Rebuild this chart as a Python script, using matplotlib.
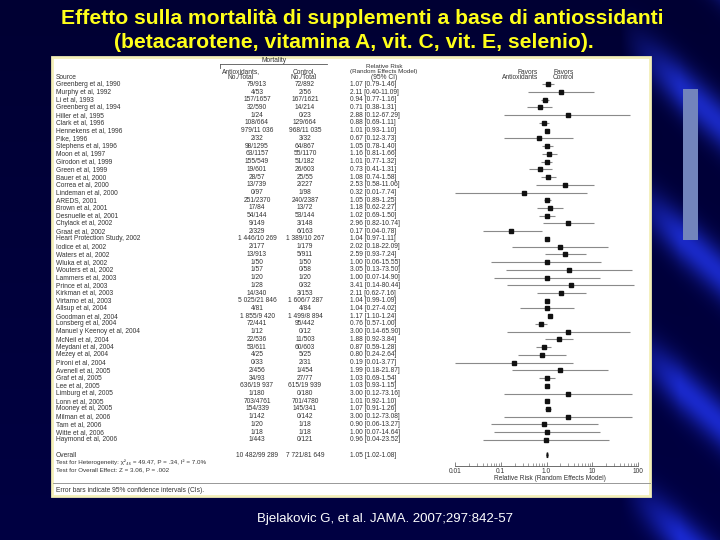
import numpy as np
import matplotlib
matplotlib.use("Agg")
import matplotlib.pyplot as plt
from matplotlib.patches import Rectangle
from matplotlib.ticker import LogLocator, FixedLocator, FixedFormatter, NullFormatter

# ---- data ----
studies = [
    "Greenberg et al, 1990", "Murphy et al, 1992", "Li et al, 1993", "Greenberg et al, 1994",
    "Hiller et al, 1995", "Clark et al, 1996", "Hennekens et al, 1996", "Pike, 1996",
    "Stephens et al, 1996", "Moon et al, 1997", "Girodon et al, 1999", "Green et al, 1999",
    "Bauer et al, 2000", "Correa et al, 2000", "Lindeman et al, 2000", "AREDS, 2001",
    "Brown et al, 2001", "Desnuelle et al, 2001", "Chylack et al, 2002", "Graat et al, 2002",
    "Heart Protection Study, 2002", "Iodice et al, 2002", "Waters et al, 2002", "Wluka et al, 2002",
    "Wouters et al, 2002", "Lammers et al, 2003", "Prince et al, 2003", "Kirkman et al, 2003",
    "Virtamo et al, 2003", "Allsup et al, 2004", "Goodman et al, 2004", "Lonsberg et al, 2004",
    "Manuel y Keenoy et al, 2004", "McNeil et al, 2004", "Meydani et al, 2004", "Mezey et al, 2004",
    "Pironi et al, 2004", "Avenell et al, 2005", "Graf et al, 2005", "Lee et al, 2005",
    "Limburg et al, 2005", "Lonn et al, 2005", "Mooney et al, 2005", "Milman et al, 2006",
    "Tam et al, 2006", "Witte et al, 2006", "Haymond et al, 2006",
]
antiox = [
    "79/913", "4/53", "157/1657", "32/590", "1/24", "108/664", "979/11 036", "2/32",
    "98/1295", "63/1157", "155/549", "19/601", "28/57", "13/739", "0/97", "251/2370",
    "17/84", "54/144", "9/149", "2/329", "1 446/10 269", "2/177", "13/913", "1/50",
    "1/57", "1/20", "1/28", "14/340", "5 025/21 846", "4/81", "1 855/9 420", "72/441",
    "1/12", "22/536", "53/611", "4/25", "0/33", "2/456", "34/93", "636/19 937",
    "1/180", "703/4761", "154/339", "1/142", "1/20", "1/18", "1/443",
]
control = [
    "72/892", "2/56", "167/1621", "14/214", "0/23", "129/664", "968/11 035", "3/32",
    "64/867", "55/1170", "51/182", "26/603", "25/55", "2/227", "1/98", "240/2387",
    "13/72", "53/144", "3/148", "6/163", "1 389/10 267", "1/179", "5/911", "1/50",
    "0/58", "1/20", "0/32", "3/153", "1 606/7 287", "4/84", "1 499/8 894", "95/442",
    "0/12", "11/503", "60/603", "5/25", "2/31", "1/454", "27/77", "615/19 939",
    "0/180", "701/4780", "145/341", "0/142", "1/18", "1/18", "0/121",
]
rr = [1.07, 2.11, 0.94, 0.71, 2.88, 0.88, 1.01, 0.67, 1.05, 1.16, 1.01, 0.73, 1.08, 2.53,
      0.32, 1.05, 1.18, 1.02, 2.96, 0.17, 1.04, 2.02, 2.59, 1.00, 3.05, 1.00, 3.41, 2.11,
      1.04, 1.04, 1.17, 0.76, 3.00, 1.88, 0.87, 0.80, 0.19, 1.99, 1.03, 1.03, 3.00, 1.01,
      1.07, 3.00, 0.90, 1.00, 0.96]
lo = [0.79, 0.40, 0.77, 0.38, 0.12, 0.69, 0.93, 0.12, 0.78, 0.81, 0.77, 0.41, 0.74, 0.58,
      0.01, 0.89, 0.62, 0.69, 0.82, 0.04, 0.97, 0.18, 0.93, 0.06, 0.13, 0.07, 0.14, 0.62,
      0.99, 0.27, 1.10, 0.57, 0.14, 0.92, 0.59, 0.24, 0.01, 0.18, 0.69, 0.93, 0.12, 0.92,
      0.91, 0.12, 0.06, 0.07, 0.04]
hi = [1.46, 11.09, 1.16, 1.31, 67.29, 1.11, 1.10, 3.73, 1.40, 1.66, 1.32, 1.31, 1.58, 11.06,
      7.74, 1.25, 2.27, 1.50, 10.74, 0.78, 1.11, 22.09, 7.24, 15.55, 73.50, 14.90, 80.44, 7.16,
      1.09, 4.02, 1.24, 1.00, 65.90, 3.84, 1.28, 2.64, 3.77, 21.87, 1.54, 1.15, 73.16, 1.10,
      1.26, 73.08, 13.27, 14.64, 23.52]
overall = ("10 482/99 289", "7 721/81 649", 1.05, 1.02, 1.08)
ticks = [0.01, 0.1, 1, 10, 100]
tick_labels = ["0.01", "0.1", "1.0", "10", "100"]

title1 = "Effetto sulla mortalità di supplementi a base di antiossidanti"
title2 = "(betacarotene, vitamina A, vit. C, vit. E, selenio)."
citation = "Bjelakovic G, et al. JAMA. 2007;297:842-57"

# ---- figure in pixel coordinates ----
W, H = 720, 540
fig = plt.figure(figsize=(7.2, 5.4), dpi=100)
bg = fig.add_axes([0, 0, 1, 1])
bg.set_xlim(0, W)
bg.set_ylim(H, 0)
bg.axis("off")

# slide background: dark navy with lighter streaks on the right
yy, xx = np.mgrid[0:H, 0:W].astype(float)
img = np.zeros((H, W, 3))
img[..., 2] = 0.20 + 0.06 * (yy / H)
d = np.mod(xx * 0.9 - yy * 1.0, 150.0)
band = np.exp(-((d - 75.0) ** 2) / (2 * 18.0 ** 2))
fade = np.clip((xx - 620) / 60.0, 0, 1)
for c, v in enumerate([0.10, 0.16, 0.55]):
    img[..., c] += band * fade * v
bar = (xx > 682) & (xx < 698) & (yy > 88) & (yy < 240)
img[bar] = [0.45, 0.52, 0.74]
img = np.clip(img, 0, 1)
bg.imshow(img, extent=[0, W, H, 0], aspect="auto", zorder=0)

title_font = ["Liberation Sans Narrow", "Liberation Sans", "DejaVu Sans"]
bg.text(362, 18, title1, ha="center", va="center", fontsize=15.2, weight="bold",
        color="#FFFF1A", family=title_font, zorder=3)
bg.text(354, 43, title2, ha="center", va="center", fontsize=15.2, weight="bold",
        color="#FFFF1A", family=title_font, zorder=3)
bg.text(385, 519, citation, ha="center", va="center", fontsize=9.5, color="white",
        family=["Liberation Sans", "DejaVu Sans"], zorder=3)

# white panel with the forest plot
bg.add_patch(Rectangle((52, 57), 598, 439, facecolor="white", edgecolor="#f3efb8",
                       lw=2, zorder=1))

small = dict(fontsize=4.8, color="#333333", family=["Liberation Sans", "DejaVu Sans"],
             zorder=3, va="center")
tiny = dict(small, fontsize=4.5)

row0, step = 84.3, 7.73
ys = row0 + step * np.arange(len(studies))

# headers
bg.text(274, 60.5, "Mortality", ha="center", **small)
bg.plot([220, 327], [64.2, 64.2], color="#555555", lw=0.6, zorder=3)
bg.plot([220, 220], [64.2, 68.0], color="#555555", lw=0.6, zorder=3)
bg.text(56, 77.7, "Source", ha="left", **small)
bg.text(241, 72, "Antioxidants,", ha="center", **small)
bg.text(241, 77.7, "No./Total", ha="center", **small)
bg.text(304, 72, "Control,", ha="center", **small)
bg.text(304, 77.7, "No./Total", ha="center", **small)
bg.text(384, 66.3, "Relative Risk", ha="center", **tiny)
bg.text(384, 72, "(Random Effects Model)", ha="center", **tiny)
bg.text(384, 77.7, "(95% CI)", ha="center", **small)
bg.text(538, 72, "Favors", ha="right", **small)
bg.text(538, 77.7, "Antioxidants", ha="right", **small)
bg.text(553, 72, "Favors", ha="left", **small)
bg.text(553, 77.7, "Control", ha="left", **small)

for y, name, a, c, r, l, h in zip(ys, studies, antiox, control, rr, lo, hi):
    bg.text(56, y, name, ha="left", **small)
    bg.text(257, y, a, ha="center", **small)
    bg.text(305, y, c, ha="center", **small)
    bg.text(350, y, f"{r:.2f} [{l:.2f}-{h:.2f}]", ha="left", **small)

y_all = 455.3
bg.text(56, y_all, "Overall", ha="left", **small)
bg.text(257, y_all, overall[0], ha="center", **small)
bg.text(305, y_all, overall[1], ha="center", **small)
bg.text(350, y_all, f"{overall[2]:.2f} [{overall[3]:.2f}-{overall[4]:.2f}]", ha="left", **small)
bg.text(56, 462.6, "Test for Heterogeneity: χ²₄₆ = 49.47, P = .34, I² = 7.0%",
        ha="left", **tiny)
bg.text(56, 469.6, "Test for Overall Effect: Z = 3.06, P = .002", ha="left", **tiny)
bg.plot([53, 650], [483, 483], color="#888888", lw=0.6, zorder=3)
bg.text(56, 490, "Error bars indicate 95% confidence intervals (CIs).", ha="left", **small)
bg.text(550, 478, "Relative Risk (Random Effects Model)", ha="center", **small)

# forest axes aligned with the pixel rows
fx = fig.add_axes([455 / W, 0, (638 - 455) / W, 1])
fx.patch.set_alpha(0)
fx.set_xscale("log")
fx.set_xlim(ticks[0], ticks[-1])
fx.set_ylim(H, 0)
for s in ["left", "right", "top"]:
    fx.spines[s].set_visible(False)
fx.spines["bottom"].set_position(("data", 466))
fx.spines["bottom"].set_color("#555555")
fx.spines["bottom"].set_linewidth(0.6)
fx.set_yticks([])
fx.xaxis.set_major_locator(FixedLocator(ticks))
fx.xaxis.set_major_formatter(FixedFormatter(tick_labels))
fx.xaxis.set_minor_locator(LogLocator(base=10, subs=np.arange(2, 10)))
fx.xaxis.set_minor_formatter(NullFormatter())
fx.tick_params(axis="x", which="major", direction="in", length=3, width=0.5,
               color="#555555", labelsize=4.8, labelcolor="#333333", pad=1.5)
fx.tick_params(axis="x", which="minor", direction="in", length=2, width=0.4, color="#555555")
for lab in fx.get_xticklabels():
    lab.set_family(["Liberation Sans", "DejaVu Sans"])

fx.hlines(ys, lo, hi, color="#8a8a8a", lw=0.8, zorder=2)
fx.plot(rr, ys, "s", ms=3.4, color="#111111", zorder=3)
r, l, h = overall[2], overall[3], overall[4]
fx.fill([l, r, h, r], [y_all, y_all - 2.6, y_all, y_all + 2.6], color="#111111", zorder=3)

fig.savefig("out.png", dpi=100)
